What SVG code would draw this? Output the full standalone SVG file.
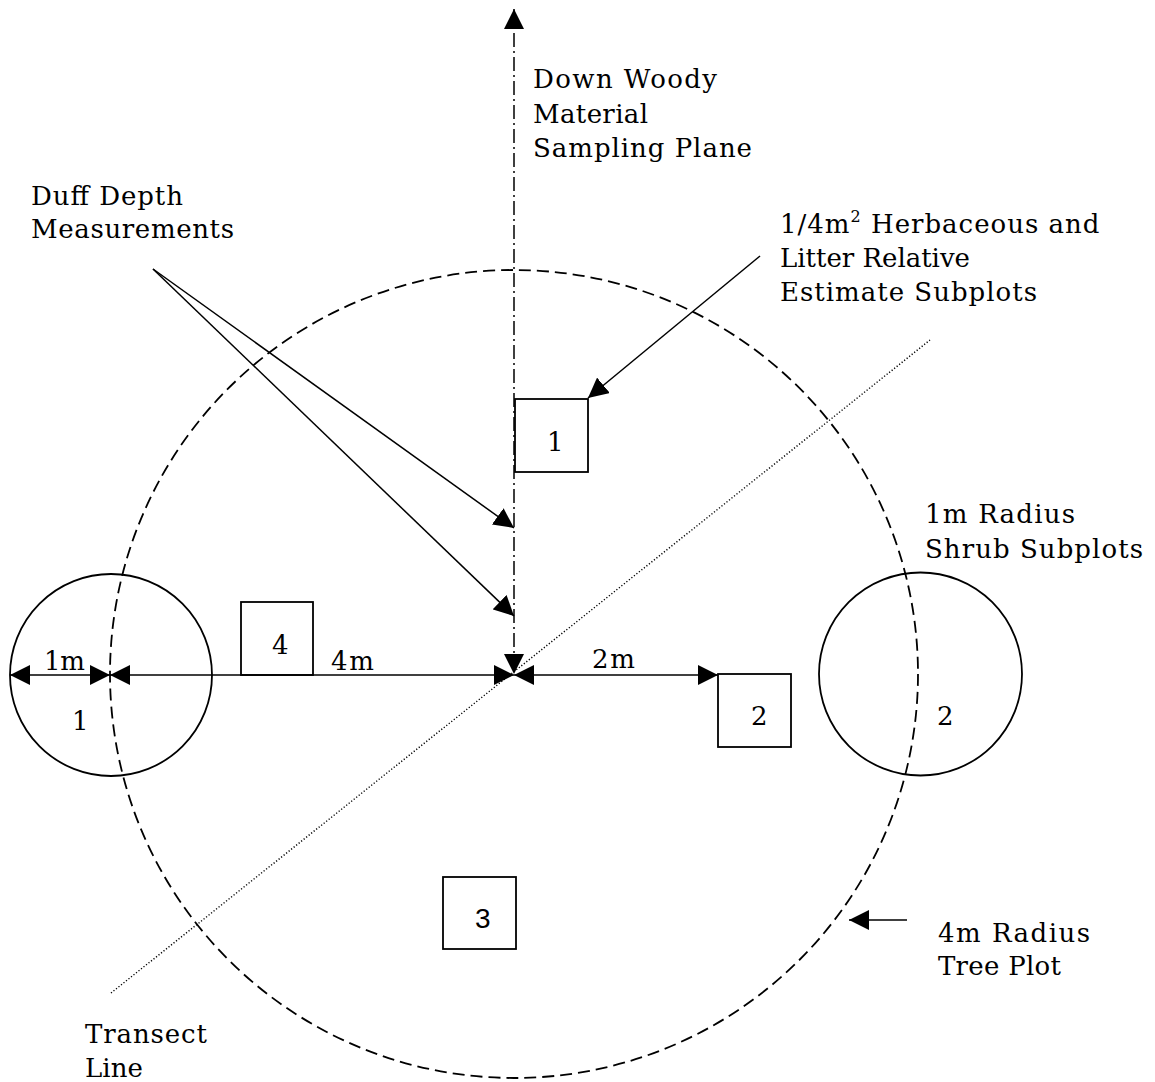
<svg xmlns="http://www.w3.org/2000/svg" width="1155" height="1082" viewBox="0 0 1155 1082">
<style>
.t{font-family:"DejaVu Serif","Liberation Serif",serif;font-size:26px;fill:#000}
.s{font-family:"Liberation Sans",Arial,sans-serif;font-size:28px;fill:#000}
.ln{stroke:#000;stroke-width:1.5;fill:none}
.box{stroke:#000;stroke-width:1.8;fill:none}
.circ{stroke:#000;stroke-width:1.8;fill:none}
.dash{stroke:#000;stroke-width:1.8;fill:none;stroke-dasharray:12 6}
.dd{stroke:#000;stroke-width:1.5;fill:none;stroke-dasharray:14 4 2 4}
.dot{stroke:#000;stroke-width:1.4;fill:none;stroke-dasharray:1.2 2}
</style>
<defs>
<marker id="ah" markerUnits="userSpaceOnUse" markerWidth="20" markerHeight="20" viewBox="0 0 18 18" refX="18" refY="9" orient="auto-start-reverse">
<path d="M0,0 L18,9 L0,18 Z" fill="#000"/>
</marker>
</defs>
<g id="tree-plot">
<circle class="dash" cx="514" cy="674" r="404"/>
</g>
<g id="transect">
<line class="dot" x1="111" y1="993" x2="930" y2="340"/>
</g>
<g id="shrub-1">
<circle class="circ" cx="111" cy="675" r="101"/>
<text class="t" x="72" y="730">1</text>
</g>
<g id="shrub-2">
<circle class="circ" cx="920.5" cy="674" r="101.5"/>
<text class="t" x="937" y="725">2</text>
</g>
<g id="sub-1">
<rect class="box" x="515" y="399" width="73" height="73"/>
<text class="t" x="547" y="451">1</text>
</g>
<g id="sub-2">
<rect class="box" x="718" y="674" width="73" height="73"/>
<text class="t" x="751" y="725">2</text>
</g>
<g id="sub-3">
<rect class="box" x="443" y="877" width="73" height="72"/>
<text class="s" x="475" y="928">3</text>
</g>
<g id="sub-4">
<rect class="box" x="241" y="602" width="72" height="73"/>
<text class="t" x="272" y="654">4</text>
</g>
<g id="connectors">
<line class="dd" x1="514" y1="9" x2="514" y2="674" marker-start="url(#ah)" marker-end="url(#ah)"/>
<line class="ln" x1="10" y1="675" x2="110" y2="675" marker-start="url(#ah)" marker-end="url(#ah)"/>
<line class="ln" x1="110" y1="675" x2="514" y2="675" marker-start="url(#ah)" marker-end="url(#ah)"/>
<line class="ln" x1="514" y1="675" x2="718" y2="675" marker-start="url(#ah)" marker-end="url(#ah)"/>
<line class="ln" x1="153" y1="269" x2="514" y2="528" marker-end="url(#ah)"/>
<line class="ln" x1="153" y1="269" x2="514" y2="616" marker-end="url(#ah)"/>
<line class="ln" x1="760" y1="256" x2="588" y2="398" marker-end="url(#ah)"/>
<line class="ln" x1="907" y1="920" x2="849" y2="920" marker-end="url(#ah)"/>
</g>
<g id="labels">
<text class="t" x="533" y="88" textLength="184">Down Woody</text>
<text class="t" x="533" y="123" textLength="115">Material</text>
<text class="t" x="533" y="157" textLength="219">Sampling Plane</text>
<text class="t" x="31" y="205" textLength="152">Duff Depth</text>
<text class="t" x="31" y="238" textLength="203">Measurements</text>
<text class="t" x="780" y="233" letter-spacing="1">1/4m<tspan font-size="16" dy="-11">2</tspan><tspan dy="11"> Herbaceous and</tspan></text>
<text class="t" x="780" y="267" textLength="190">Litter Relative</text>
<text class="t" x="780" y="301" textLength="257">Estimate Subplots</text>
<text class="t" x="925" y="523" textLength="150">1m Radius</text>
<text class="t" x="925" y="558" textLength="218">Shrub Subplots</text>
<text class="t" x="938" y="942" textLength="152">4m Radius</text>
<text class="t" x="938" y="975" textLength="123">Tree Plot</text>
<text class="t" x="85" y="1043" textLength="122">Transect</text>
<text class="t" x="85" y="1077" textLength="58">Line</text>
<text class="t" x="44" y="670" textLength="41">1m</text>
<text class="t" x="331" y="670" textLength="43">4m</text>
<text class="t" x="592" y="668" textLength="43">2m</text>
</g>
</svg>
